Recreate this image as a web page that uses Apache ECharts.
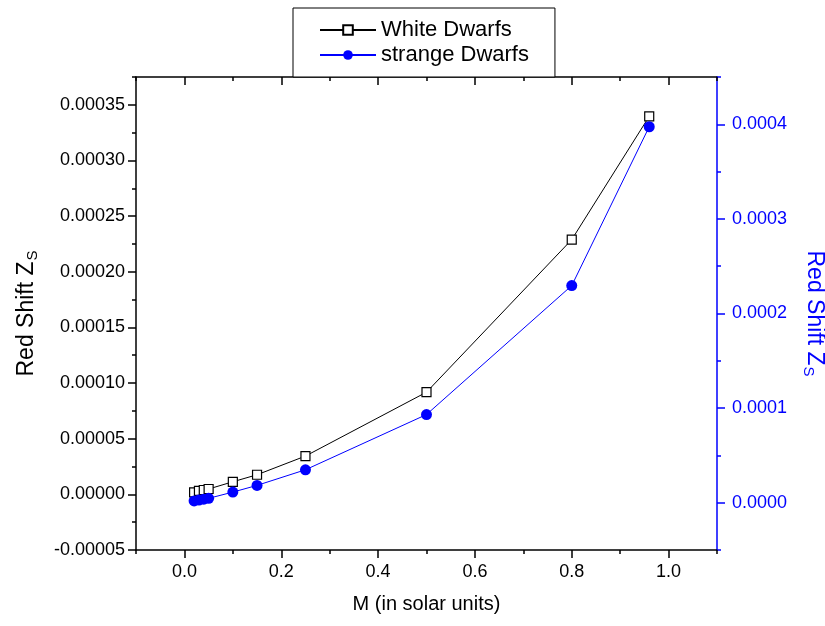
<!DOCTYPE html>
<html>
<head>
<meta charset="utf-8">
<script src="https://cdn.jsdelivr.net/npm/echarts@6/dist/echarts.min.js"></script>
<style>
html,body{margin:0;padding:0;background:#fff;}
#chart{width:825px;height:626px;}
</style>
</head>
<body>
<div id="chart"></div>
<script>
// ---- data ----
const massValues = [0.02, 0.03, 0.04, 0.05, 0.1, 0.15, 0.25, 0.5, 0.8, 0.96];
const whiteDwarfZ = [1.8e-6, 3.2e-6, 3.9e-6, 4.8e-6, 1.13e-5, 1.76e-5, 3.44e-5, 9.18e-5, 2.289e-4, 3.396e-4];
const strangeDwarfZ = [1.9e-6, 2.8e-6, 3.7e-6, 4.6e-6, 1.12e-5, 1.83e-5, 3.48e-5, 9.32e-5, 2.295e-4, 3.974e-4];

const xMajorTicks = [0, 0.2, 0.4, 0.6, 0.8, 1.0];
const xMinorTicks = [-0.1, 0.1, 0.3, 0.5, 0.7, 0.9, 1.1];
const leftMajorTicks = [-0.00005, 0, 0.00005, 0.0001, 0.00015, 0.0002, 0.00025, 0.0003, 0.00035];
const leftMinorTicks = [-0.000025, 0.000025, 0.000075, 0.000125, 0.000175, 0.000225, 0.000275, 0.000325, 0.000375];
const rightMajorTicks = [0, 0.0001, 0.0002, 0.0003, 0.0004];
const rightMinorTicks = [-0.00005, 0.00005, 0.00015, 0.00025, 0.00035, 0.00045];

const FONT = "'Liberation Sans', Arial, sans-serif";
const BLUE = '#0000ff';

const whiteData = massValues.map((m, i) => [m, whiteDwarfZ[i]]);
const strangeData = massValues.map((m, i) => [m, strangeDwarfZ[i]]);

function xAxisBase(extra) {
  return Object.assign({
    type: 'value', min: -0.1, max: 1.1, gridIndex: 0,
    splitLine: { show: false },
    axisLine: { show: false, onZero: false },
    axisLabel: { show: false },
    axisTick: { show: false }
  }, extra);
}

const chart = echarts.init(document.getElementById('chart'), null, { renderer: 'canvas' });
chart.setOption({
  animation: false,
  backgroundColor: '#fff',
  textStyle: { fontFamily: FONT },
  grid: { left: 136, top: 77, right: 108, bottom: 76, containLabel: false, outerBoundsMode: 'none' },
  legend: {
    orient: 'vertical',
    left: 293, top: 8,
    padding: [11, 26, 11, 26],
    itemWidth: 56, itemHeight: 12, itemGap: 3,
    borderColor: '#000', borderWidth: 1, backgroundColor: '#fff',
    textStyle: { fontSize: 22, color: '#000', fontFamily: FONT },
    data: ['White Dwarfs', 'strange Dwarfs']
  },
  xAxis: [
    xAxisBase({
      position: 'bottom',
      name: 'M (in solar units)', nameLocation: 'middle', nameGap: 44,
      nameTextStyle: { fontSize: 20, color: '#000', fontFamily: FONT },
      axisLine: { show: true, onZero: false, lineStyle: { color: '#000', width: 1.5 } },
      axisTick: { show: true, length: 8, customValues: xMajorTicks, lineStyle: { color: '#000', width: 1.5 } },
      axisLabel: { show: true, customValues: xMajorTicks, margin: 13, fontSize: 18, color: '#000', fontFamily: FONT,
        formatter: v => v.toFixed(1) }
    }),
    xAxisBase({
      position: 'bottom',
      axisTick: { show: true, length: 4, customValues: xMinorTicks, lineStyle: { color: '#000', width: 1.5 } }
    }),
    xAxisBase({
      position: 'top',
      axisLine: { show: true, onZero: false, lineStyle: { color: '#000', width: 1.5 } },
      axisTick: { show: true, inside: true, length: 8, customValues: xMajorTicks, lineStyle: { color: '#000', width: 1.5 } }
    }),
    xAxisBase({
      position: 'top',
      axisTick: { show: true, inside: true, length: 4, customValues: xMinorTicks, lineStyle: { color: '#000', width: 1.5 } }
    })
  ],
  yAxis: [
    {
      type: 'value', position: 'left', min: -0.00005, max: 0.000375,
      splitLine: { show: false },
      name: 'Red Shift Z{sub|S}', nameLocation: 'middle', nameGap: 96,
      nameTextStyle: { fontSize: 23, color: '#000', fontFamily: FONT,
        rich: { sub: { fontSize: 15, color: '#000', fontFamily: FONT, verticalAlign: 'bottom', padding: [11, 0, 0, 1] } } },
      axisLine: { show: true, onZero: false, lineStyle: { color: '#000', width: 1.5 } },
      axisTick: { show: true, length: 8, customValues: leftMajorTicks, lineStyle: { color: '#000', width: 1.5 } },
      axisLabel: { show: true, customValues: leftMajorTicks, margin: 11, fontSize: 18, color: '#000', fontFamily: FONT,
        formatter: v => v.toFixed(5) }
    },
    {
      type: 'value', position: 'left', min: -0.00005, max: 0.000375,
      splitLine: { show: false },
      axisLine: { show: false, onZero: false },
      axisLabel: { show: false },
      axisTick: { show: true, length: 4, customValues: leftMinorTicks, lineStyle: { color: '#000', width: 1.5 } }
    },
    {
      type: 'value', position: 'right', min: -0.00005, max: 0.00045,
      splitLine: { show: false },
      name: 'Red Shift Z{sub|S}', nameLocation: 'middle', nameGap: 84, nameRotate: -90,
      nameTextStyle: { fontSize: 23, color: BLUE, fontFamily: FONT,
        rich: { sub: { fontSize: 15, color: BLUE, fontFamily: FONT, verticalAlign: 'bottom', padding: [11, 0, 0, 1] } } },
      axisLine: { show: true, onZero: false, lineStyle: { color: BLUE, width: 1.5 } },
      axisTick: { show: true, length: 8, customValues: rightMajorTicks, lineStyle: { color: BLUE, width: 1.5 } },
      axisLabel: { show: true, customValues: rightMajorTicks, margin: 15, fontSize: 18, color: BLUE, fontFamily: FONT,
        formatter: v => v.toFixed(4) }
    },
    {
      type: 'value', position: 'right', min: -0.00005, max: 0.00045,
      splitLine: { show: false },
      axisLine: { show: false, onZero: false },
      axisLabel: { show: false },
      axisTick: { show: true, length: 4, customValues: rightMinorTicks, lineStyle: { color: BLUE, width: 1.5 } }
    }
  ],
  series: [
    {
      name: 'White Dwarfs', type: 'line', xAxisIndex: 0, yAxisIndex: 0,
      data: whiteData,
      symbol: 'rect', symbolSize: 9,
      lineStyle: { color: '#000', width: 1 },
      itemStyle: { color: '#fff', borderColor: '#000', borderWidth: 1.2 },
      z: 2
    },
    {
      name: 'strange Dwarfs', type: 'line', xAxisIndex: 0, yAxisIndex: 2,
      data: strangeData,
      symbol: 'circle', symbolSize: 11,
      lineStyle: { color: BLUE, width: 1 },
      itemStyle: { color: BLUE, borderColor: BLUE, borderWidth: 0 },
      z: 3
    }
  ]
});
</script>
</body>
</html>
